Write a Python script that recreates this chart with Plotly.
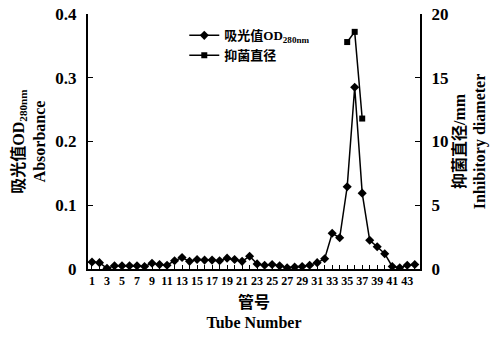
import plotly.graph_objects as go

tubes = list(range(1, 45))
od280 = [0.011, 0.010, 0.001, 0.005, 0.005, 0.005, 0.005, 0.004, 0.009, 0.007,
         0.006, 0.013, 0.018, 0.012, 0.015, 0.014, 0.014, 0.013, 0.017, 0.015,
         0.012, 0.020, 0.008, 0.006, 0.007, 0.005, 0.002, 0.003, 0.004, 0.006,
         0.010, 0.016, 0.056, 0.049, 0.129, 0.285, 0.119, 0.045, 0.035, 0.024,
         0.004, 0.002, 0.006, 0.007]
dia_tubes = [35, 36, 37]
diameter = [17.8, 18.6, 11.8]
x_tick_vals = list(range(1, 44, 2))
x_tick_text = [str(v) for v in x_tick_vals]

FONT = "Liberation Serif, Times New Roman, Noto Sans CJK SC, serif"

fig = go.Figure()
fig.add_trace(go.Scatter(
    x=tubes, y=od280, mode="lines+markers", name="吸光值OD<sub>280nm</sub>",
    line=dict(color="black", width=1.5),
    marker=dict(symbol="diamond", size=7, color="black"),
))
fig.add_trace(go.Scatter(
    x=dia_tubes, y=diameter, mode="lines+markers", name="抑菌直径",
    yaxis="y2",
    line=dict(color="black", width=1.5),
    marker=dict(symbol="square", size=6, color="black"),
))

fig.update_layout(
    width=503, height=337,
    margin=dict(l=88, r=83, t=14, b=68, autoexpand=False),
    paper_bgcolor="white", plot_bgcolor="white",
    font=dict(family=FONT, size=14, color="black", weight="bold"),
    showlegend=True,
    legend=dict(x=0.29, y=0.975, xanchor="left", yanchor="top",
                bgcolor="rgba(0,0,0,0)", font=dict(size=13),
                tracegroupgap=0, itemwidth=30),
    xaxis=dict(
        range=[0.47, 44.7], showgrid=False, zeroline=False, automargin=False,
        showline=True, linecolor="black", linewidth=2,
        tickvals=x_tick_vals, ticktext=x_tick_text, tickangle=0,
        ticks="inside", ticklen=4, tickcolor="black",
        minor=dict(ticks="inside", dtick=1, tick0=0, ticklen=4, tickcolor="black"),
        tickfont=dict(size=12),
        title=dict(text="管号<br>Tube Number", font=dict(size=16), standoff=9),
    ),
    yaxis=dict(
        range=[0, 0.4], dtick=0.1, showgrid=False, zeroline=False, automargin=False,
        showline=True, linecolor="black", linewidth=2,
        ticks="inside", ticklen=5, tickcolor="black",
        tickfont=dict(size=17), ticklabelstandoff=6,
        title=dict(text="吸光值OD<sub>280nm</sub><br>Absorbance", font=dict(size=16), standoff=6),
    ),
    yaxis2=dict(
        range=[0, 20], dtick=5, overlaying="y", side="right", automargin=False,
        showgrid=False, zeroline=False,
        showline=True, linecolor="black", linewidth=2,
        ticks="inside", ticklen=5, tickcolor="black",
        tickfont=dict(size=17), ticklabelstandoff=6,
        title=dict(text="抑菌直径/mm<br>Inhibitory diameter", font=dict(size=16), standoff=6),
    ),
)

fig.write_html("out.html", config={"displayModeBar": False},
               post_script="document.body.style.margin='0';")
